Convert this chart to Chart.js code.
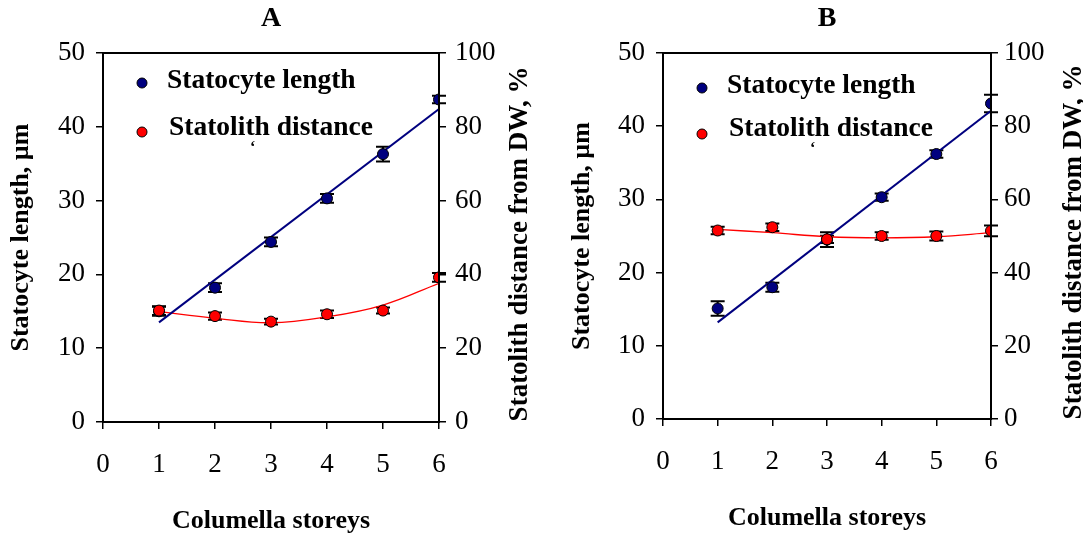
<!DOCTYPE html>
<html>
<head>
<meta charset="utf-8">
<script src="https://cdn.jsdelivr.net/npm/chart.js@4.4.1/dist/chart.umd.min.js"></script>
<style>
  html, body { margin: 0; padding: 0; background: #fff; }
  #wrap { position: relative; width: 1083px; height: 540px; overflow: hidden; }
  canvas { position: absolute; top: 0; }
  #panelA { left: 0; }
  #panelB { left: 541px; }
</style>
</head>
<body>
<div id="wrap">
  <canvas id="panelA" width="541" height="540"></canvas>
  <canvas id="panelB" width="542" height="540"></canvas>
</div>
<script>
// Columella storeys on the x axis
const storeys = [1, 2, 3, 4, 5, 6];
const seriesNames = ['Statocyte length', 'Statolith distance'];

// Panel A: statocyte length (µm, left axis) and statolith distance (% , right axis)
const lengthA      = [15.0, 18.2, 24.4, 30.3, 36.3, 43.7];
const lengthErrA   = [0.6, 0.6, 0.6, 0.6, 1.0, 0.5];
const distanceA    = [30.2, 28.7, 27.2, 29.2, 30.2, 39.2];
const distanceErrA = [1.2, 1.0, 0.8, 1.0, 0.8, 1.2];
const lengthFitXA  = [1, 6];
const lengthFitA   = [13.5, 42.4];
const distanceFitA = [29.9, 28.1, 26.9, 28.5, 31.7, 37.6];

// Panel B
const lengthB      = [15.1, 18.0, 24.5, 30.3, 36.2, 43.1];
const lengthErrB   = [1.0, 0.6, 1.0, 0.5, 0.5, 1.2];
const distanceB    = [51.5, 52.4, 49.1, 50.0, 50.0, 51.4];
const distanceErrB = [1.0, 1.0, 1.0, 1.0, 1.2, 1.5];
const lengthFitXB  = [1, 6];
const lengthFitB   = [13.2, 42.1];
const distanceFitB = [51.8, 50.9, 49.8, 49.5, 49.8, 50.9];

const SERIF = '"Liberation Serif", "Times New Roman", serif';
const NAVY = '#00007f';
const RED = '#ff0000';

const toPoints = (xs, ys) => xs.map((x, i) => ({ x: x, y: ys[i] }));

// Vertical error bars with caps, drawn from each dataset's "errors" array
const errorBars = {
  id: 'errorBars',
  beforeDatasetsDraw(chart) {
    const ctx = chart.ctx;
    chart.data.datasets.forEach(ds => {
      if (!ds.errors) return;
      const yScale = chart.scales[ds.yAxisID];
      const xScale = chart.scales.x;
      ctx.save();
      ctx.strokeStyle = '#000';
      ctx.lineWidth = 2;
      ds.data.forEach((pt, i) => {
        const e = ds.errors[i];
        const x = xScale.getPixelForValue(pt.x);
        const yTop = yScale.getPixelForValue(pt.y + e);
        const yBot = yScale.getPixelForValue(pt.y - e);
        ctx.beginPath();
        ctx.moveTo(x, yTop); ctx.lineTo(x, yBot);
        ctx.moveTo(x - 7, yTop); ctx.lineTo(x + 7, yTop);
        ctx.moveTo(x - 7, yBot); ctx.lineTo(x + 7, yBot);
        ctx.stroke();
      });
      ctx.restore();
    });
  }
};

// Frame around the plot area
const frame = {
  id: 'frame',
  afterDraw(chart) {
    const a = chart.chartArea;
    const ctx = chart.ctx;
    ctx.save();
    ctx.strokeStyle = '#000';
    ctx.lineWidth = 2;
    ctx.strokeRect(a.left, a.top, a.right - a.left, a.bottom - a.top);
    ctx.restore();
  }
};

// Legend inside the plot, right-axis title reading bottom to top
const annotations = {
  id: 'annotations',
  afterDraw(chart, args, opts) {
    const ctx = chart.ctx;
    ctx.save();
    opts.entries.forEach(en => {
      ctx.beginPath();
      ctx.arc(en.dotX, en.dotY, 5, 0, Math.PI * 2);
      ctx.fillStyle = en.color;
      ctx.fill();
      ctx.lineWidth = 1;
      ctx.strokeStyle = '#000';
      ctx.stroke();
      ctx.fillStyle = '#000';
      ctx.font = 'bold 27.5px ' + SERIF;
      ctx.textAlign = 'left';
      ctx.textBaseline = 'middle';
      ctx.fillText(en.text, en.textX, en.textY);
    });
    ctx.font = 'bold 16px ' + SERIF;
    ctx.fillText('\u2018', opts.mark.x, opts.mark.y);

    const a = chart.chartArea;
    ctx.translate(opts.rightTitleX, opts.rightTitleY);
    ctx.rotate(-Math.PI / 2);
    ctx.font = 'bold 27px ' + SERIF;
    ctx.textAlign = 'center';
    ctx.textBaseline = 'middle';
    ctx.fillText('Statolith distance from DW, %', 0, 0);
    ctx.restore();
  }
};

function buildPanel(el, p) {
  const tickFont = { family: SERIF, size: 27 };
  const titleFont = { family: SERIF, size: 26, weight: 'bold' };
  const grid = { drawOnChartArea: false, drawTicks: true, tickLength: 7, color: '#000', lineWidth: 1.5 };
  return new Chart(el, {
    type: 'scatter',
    data: {
      datasets: [
        { label: seriesNames[1], data: toPoints(storeys, p.distance), errors: p.distanceErr,
          yAxisID: 'yR', backgroundColor: RED, borderColor: '#000', borderWidth: 1,
          pointRadius: 5.5, order: 0 },
        { label: seriesNames[0], data: toPoints(storeys, p.length), errors: p.lengthErr,
          yAxisID: 'yL', backgroundColor: NAVY, borderColor: '#000', borderWidth: 1,
          pointRadius: 5.5, order: 1 },
        { type: 'line', label: 'length fit', data: toPoints(p.lengthFitX, p.lengthFit),
          yAxisID: 'yL', borderColor: NAVY, borderWidth: 2, pointRadius: 0, fill: false, order: 2 },
        { type: 'line', label: 'distance fit', data: toPoints(storeys, p.distanceFit),
          yAxisID: 'yR', borderColor: RED, borderWidth: 1.3, pointRadius: 0, fill: false,
          tension: 0.4, order: 3 }
      ]
    },
    options: {
      responsive: false,
      animation: false,
      devicePixelRatio: 1,
      layout: { padding: 0 },
      scales: {
        x: {
          type: 'linear', min: 0, max: 6,
          afterFit: s => { s.height = p.xScaleH; },
          ticks: { stepSize: 1, color: '#000', font: tickFont, padding: p.xTickPad, maxRotation: 0 },
          grid: grid, border: { display: false },
          title: { display: true, text: 'Columella storeys', color: '#000', font: titleFont,
                   padding: { top: 0, bottom: p.xTitlePad } }
        },
        yL: {
          position: 'left', min: 0, max: 50,
          afterFit: s => { s.width = p.leftW; },
          ticks: { stepSize: 10, color: '#000', font: tickFont, padding: 11 },
          grid: grid, border: { display: false },
          title: { display: true, text: 'Statocyte length, \u00b5m', color: '#000', font: titleFont,
                   padding: { top: p.leftTitlePad, bottom: 0 } }
        },
        yR: {
          position: 'right', min: 0, max: 100,
          afterFit: s => { s.width = p.rightW; },
          ticks: { stepSize: 20, color: '#000', font: tickFont, padding: p.rightTickPad },
          grid: grid, border: { display: false }
        }
      },
      plugins: {
        legend: { display: false },
        tooltip: { enabled: false },
        title: { display: true, text: p.title, color: '#000', fullSize: false,
                 font: { family: SERIF, size: 28, weight: 'bold' },
                 padding: { top: 2, bottom: 53 - 2 - 33.6 } },
        annotations: p.annotations
      }
    },
    plugins: [errorBars, frame, annotations]
  });
}

buildPanel(document.getElementById('panelA'), {
  title: 'A',
  length: lengthA, lengthErr: lengthErrA,
  distance: distanceA, distanceErr: distanceErrA,
  lengthFitX: lengthFitXA, lengthFit: lengthFitA, distanceFit: distanceFitA,
  leftW: 103, rightW: 102, xScaleH: 118,
  xTickPad: 20, xTitlePad: 3, leftTitlePad: 6, rightTickPad: 9,
  annotations: {
    entries: [
      { color: NAVY, text: seriesNames[0], dotX: 142, dotY: 83, textX: 167, textY: 81 },
      { color: RED, text: seriesNames[1], dotX: 142, dotY: 132, textX: 169, textY: 128 }
    ],
    mark: { x: 250, y: 148 },
    rightTitleX: 520, rightTitleY: 244
  }
});

buildPanel(document.getElementById('panelB'), {
  title: 'B',
  length: lengthB, lengthErr: lengthErrB,
  distance: distanceB, distanceErr: distanceErrB,
  lengthFitX: lengthFitXB, lengthFit: lengthFitB, distanceFit: distanceFitB,
  leftW: 122, rightW: 92, xScaleH: 121,
  xTickPad: 20, xTitlePad: 6, leftTitlePad: 26, rightTickPad: 6,
  annotations: {
    entries: [
      { color: NAVY, text: seriesNames[0], dotX: 161, dotY: 88, textX: 186, textY: 86 },
      { color: RED, text: seriesNames[1], dotX: 161, dotY: 134, textX: 188, textY: 129 }
    ],
    mark: { x: 269, y: 149 },
    rightTitleX: 533, rightTitleY: 242
  }
});
</script>
</body>
</html>
